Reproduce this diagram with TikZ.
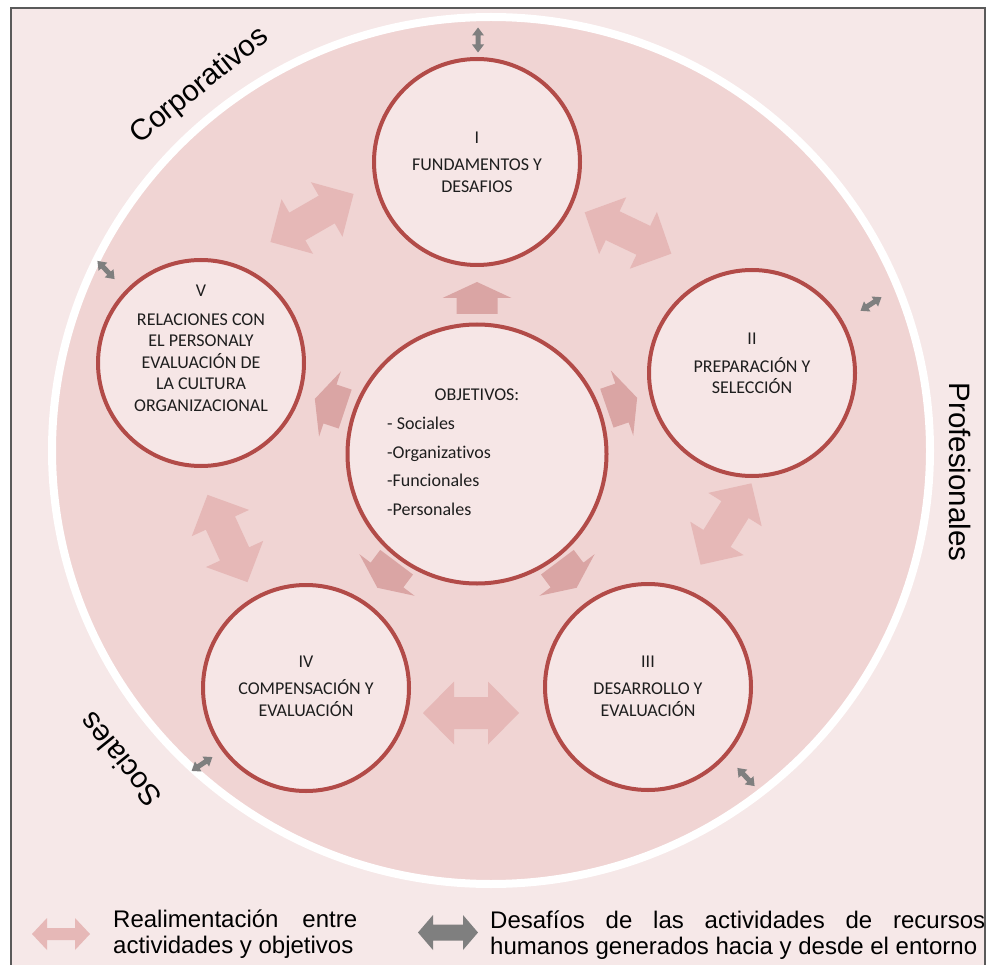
\documentclass[tikz,border=0pt]{standalone}
\usepackage{fontspec}
\setmainfont{Carlito}[Ligatures=NoCommon]
\newfontfamily\arialfont{Liberation Sans}

\definecolor{framebg}{HTML}{F6E8E8}
\definecolor{ringfill}{HTML}{F0D4D3}
\definecolor{nodefill}{HTML}{F6E6E6}
\definecolor{noderim}{HTML}{B24B48}
\definecolor{fbcol}{HTML}{E6B8B7}
\definecolor{objcol}{HTML}{DAA5A4}
\definecolor{envcol}{HTML}{7F7F7F}
\definecolor{framerule}{HTML}{5A5A5A}
\definecolor{txt}{HTML}{1E1E1E}

% double block arrow: colour, x, y, angle, half length, head length, head half width, shaft half width
\newcommand\blockdbl[8]{\fill[#1, shift={(#2,#3)}, rotate=#4]
  (-#5,0) -- (-#5+#6,-#7) -- (-#5+#6,-#8) -- (#5-#6,-#8) -- (#5-#6,-#7) -- (#5,0)
  -- (#5-#6,#7) -- (#5-#6,#8) -- (-#5+#6,#8) -- (-#5+#6,#7) -- cycle;}
% single block arrow from objectives
\newcommand\objarrow[3]{\fill[objcol, shift={(#1,#2)}, rotate=#3]
  (16,0) -- (0,34.5) -- (0,20.5) -- (-16,20.5) -- (-16,-20.5) -- (0,-20.5) -- (0,-34.5) -- cycle;}

\begin{document}
\begin{tikzpicture}[x=1pt,y=-1pt,
  actcircle/.style={circle, draw=noderim, line width=4pt, fill=nodefill,
    minimum size=206pt, inner sep=0pt, outer sep=0pt},
  acttext/.style={align=center, font=\fontsize{18}{21.5}\selectfont, text=txt, inner sep=0pt},
  objtext/.style={anchor=base west, font=\fontsize{18}{21.5}\selectfont, text=txt, inner sep=0pt},
  biglabel/.style={font=\arialfont\fontsize{29.5}{33}\selectfont, text=black, inner sep=0pt},
  legtext/.style={anchor=base west, font=\arialfont\fontsize{24}{26}\selectfont, text=black, inner sep=0pt}
]
\useasboundingbox (0,0) rectangle (998,965);
\clip (0,0) rectangle (998,965);
\fill[white] (0,0) rectangle (998,965);
\filldraw[fill=framebg, draw=framerule, line width=1.2pt] (11,8) rectangle (985,1000);
\draw[white, line width=8pt, fill=ringfill] (491,450.5) ellipse [x radius=439, y radius=433.5];

% feedback arrows between activities
\blockdbl{fbcol}{312}{218}{30}{48}{31}{31.5}{16}
\blockdbl{fbcol}{628}{233}{-25.5}{48}{31}{31.5}{16}
\blockdbl{fbcol}{726}{524}{58}{48}{31}{31.5}{16}
\blockdbl{fbcol}{471}{713}{0}{48}{31}{31.5}{16}
\blockdbl{fbcol}{227.5}{538.5}{114.6}{48}{31}{31.5}{16}

% arrows from objectives
\objarrow{477}{298}{90}
\objarrow{330}{404}{161.5}
\objarrow{622}{403}{19}
\objarrow{387}{575}{-127}
\objarrow{567}{575}{-53}

% environment arrows
\blockdbl{envcol}{478}{40}{90}{12.5}{8}{6}{2.5}
\blockdbl{envcol}{106}{270}{-46.6}{12.5}{8}{6}{2.5}
\blockdbl{envcol}{871}{304}{33}{12.5}{8}{6}{2.5}
\blockdbl{envcol}{746}{777}{-46.5}{12.5}{8}{6}{2.5}
\blockdbl{envcol}{202}{764}{33.7}{12.5}{8}{6}{2.5}

% activity circles
\node[actcircle] (n1) at (477,162) {};
\node[actcircle] (n2) at (752,373) {};
\node[actcircle] (n3) at (648,687) {};
\node[actcircle] (n4) at (306,688) {};
\node[actcircle] (n5) at (201,363) {};
\node[actcircle, minimum size=259pt] (obj) at (477,454) {};

\node[acttext] (t1) at (477,162) {I\\[6pt]FUNDAMENTOS Y\\DESAFIOS};
\node[acttext] (t2) at (752,363.5) {II\\[6pt]PREPARACIÓN Y\\SELECCIÓN};
\node[acttext] (t3) at (648,686) {III\\[6pt]DESARROLLO Y\\EVALUACIÓN};
\node[acttext] (t4) at (306,686) {IV\\[6pt]COMPENSACIÓN Y\\EVALUACIÓN};
\node[acttext] (t5) at (201,348.5) {V\\[7pt]RELACIONES CON\\EL PERSONALY\\EVALUACIÓN DE\\LA CULTURA\\ORGANIZACIONAL};

\node[acttext] (ot) at (477,395) {OBJETIVOS:};
\node[objtext] (o1) at (387,429) {- Sociales};
\node[objtext] (o2) at (387,458) {-Organizativos};
\node[objtext] (o3) at (387,486) {-Funcionales};
\node[objtext] (o4) at (387,515) {-Personales};

% environment labels
\node[biglabel, rotate=38.7] (corp) at (200,86) {Corporativos};
\node[biglabel, rotate=-90] (prof) at (960,472) {Profesionales};
\node[biglabel, rotate=129] (soc) at (120,760) {Sociales};

% legend
\blockdbl{fbcol}{61}{934}{0}{29}{15}{16}{6}
\blockdbl{envcol}{448}{932.5}{0}{30}{15}{17.5}{8}
\node[legtext] (l1a) at (113,927) {\makebox[244pt][s]{Realimentación entre}};
\node[legtext] (l1b) at (113,953) {actividades y objetivos};
\node[legtext] (l2a) at (490,928) {\makebox[495pt][s]{Desafíos de las actividades de recursos}};
\node[legtext] (l2b) at (490,954) {humanos generados hacia y desde el entorno};
\end{tikzpicture}
\end{document}
